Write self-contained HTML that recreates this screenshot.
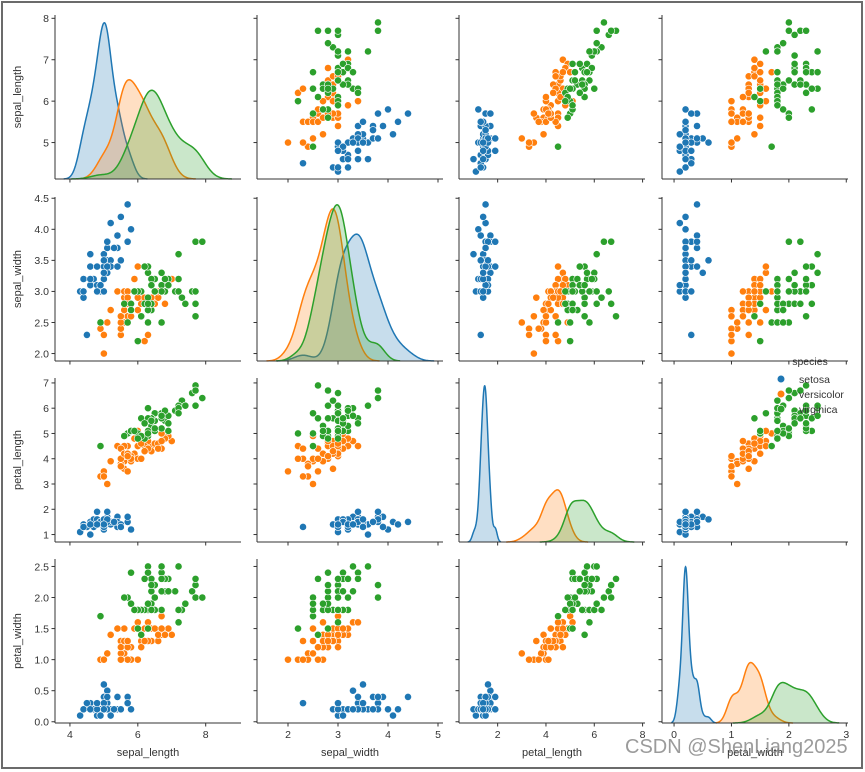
<!DOCTYPE html>
<html><head><meta charset="utf-8"><style>
html,body{margin:0;padding:0;background:#fff;}
#frame{position:absolute;left:1px;top:1px;width:858px;height:764px;border:2px solid #6b6b6b;}
svg{position:absolute;left:0;top:0;}
text{font-family:"Liberation Sans",sans-serif;fill:#333;}
#wm{position:absolute;left:625px;top:736px;font-family:"Liberation Sans","Noto Sans CJK SC",sans-serif;font-size:20px;color:rgba(130,130,130,0.8);white-space:nowrap;}
</style></head><body>
<div id="frame"></div>
<svg id="chart" width="865" height="772"></svg>
<div id="wm">CSDN @ShenLiang2025</div>
<script>
const varNames = ["sepal_length","sepal_width","petal_length","petal_width"];
const species = ["setosa","versicolor","virginica"];
const colors = ["#1f77b4","#ff7f0e","#2ca02c"];
const setosa = [[5.1,3.5,1.4,0.2],[4.9,3.0,1.4,0.2],[4.7,3.2,1.3,0.2],[4.6,3.1,1.5,0.2],[5.0,3.6,1.4,0.2],[5.4,3.9,1.7,0.4],[4.6,3.4,1.4,0.3],[5.0,3.4,1.5,0.2],[4.4,2.9,1.4,0.2],[4.9,3.1,1.5,0.1],[5.4,3.7,1.5,0.2],[4.8,3.4,1.6,0.2],[4.8,3.0,1.4,0.1],[4.3,3.0,1.1,0.1],[5.8,4.0,1.2,0.2],[5.7,4.4,1.5,0.4],[5.4,3.9,1.3,0.4],[5.1,3.5,1.4,0.3],[5.7,3.8,1.7,0.3],[5.1,3.8,1.5,0.3],[5.4,3.4,1.7,0.2],[5.1,3.7,1.5,0.4],[4.6,3.6,1.0,0.2],[5.1,3.3,1.7,0.5],[4.8,3.4,1.9,0.2],[5.0,3.0,1.6,0.2],[5.0,3.4,1.6,0.4],[5.2,3.5,1.5,0.2],[5.2,3.4,1.4,0.2],[4.7,3.2,1.6,0.2],[4.8,3.1,1.6,0.2],[5.4,3.4,1.5,0.4],[5.2,4.1,1.5,0.1],[5.5,4.2,1.4,0.2],[4.9,3.1,1.5,0.1],[5.0,3.2,1.2,0.2],[5.5,3.5,1.3,0.2],[4.9,3.1,1.5,0.1],[4.4,3.0,1.3,0.2],[5.1,3.4,1.5,0.2],[5.0,3.5,1.3,0.3],[4.5,2.3,1.3,0.3],[4.4,3.2,1.3,0.2],[5.0,3.5,1.6,0.6],[5.1,3.8,1.9,0.4],[4.8,3.0,1.4,0.3],[5.1,3.8,1.6,0.2],[4.6,3.2,1.4,0.2],[5.3,3.7,1.5,0.2],[5.0,3.3,1.4,0.2]];
const versicolor = [[7.0,3.2,4.7,1.4],[6.4,3.2,4.5,1.5],[6.9,3.1,4.9,1.5],[5.5,2.3,4.0,1.3],[6.5,2.8,4.6,1.5],[5.7,2.8,4.5,1.3],[6.3,3.3,4.7,1.6],[4.9,2.4,3.3,1.0],[6.6,2.9,4.6,1.3],[5.2,2.7,3.9,1.4],[5.0,2.0,3.5,1.0],[5.9,3.0,4.2,1.5],[6.0,2.2,4.0,1.0],[6.1,2.9,4.7,1.4],[5.6,2.9,3.6,1.3],[6.7,3.1,4.4,1.4],[5.6,3.0,4.5,1.5],[5.8,2.7,4.1,1.0],[6.2,2.2,4.5,1.5],[5.6,2.5,3.9,1.1],[5.9,3.2,4.8,1.8],[6.1,2.8,4.0,1.3],[6.3,2.5,4.9,1.5],[6.1,2.8,4.7,1.2],[6.4,2.9,4.3,1.3],[6.6,3.0,4.4,1.4],[6.8,2.8,4.8,1.4],[6.7,3.0,5.0,1.7],[6.0,2.9,4.5,1.5],[5.7,2.6,3.5,1.0],[5.5,2.4,3.8,1.1],[5.5,2.4,3.7,1.0],[5.8,2.7,3.9,1.2],[6.0,2.7,5.1,1.6],[5.4,3.0,4.5,1.5],[6.0,3.4,4.5,1.6],[6.7,3.1,4.7,1.5],[6.3,2.3,4.4,1.3],[5.6,3.0,4.1,1.3],[5.5,2.5,4.0,1.3],[5.5,2.6,4.4,1.2],[6.1,3.0,4.6,1.4],[5.8,2.6,4.0,1.2],[5.0,2.3,3.3,1.0],[5.6,2.7,4.2,1.3],[5.7,3.0,4.2,1.2],[5.7,2.9,4.2,1.3],[6.2,2.9,4.3,1.3],[5.1,2.5,3.0,1.1],[5.7,2.8,4.1,1.3]];
const virginica = [[6.3,3.3,6.0,2.5],[5.8,2.7,5.1,1.9],[7.1,3.0,5.9,2.1],[6.3,2.9,5.6,1.8],[6.5,3.0,5.8,2.2],[7.6,3.0,6.6,2.1],[4.9,2.5,4.5,1.7],[7.3,2.9,6.3,1.8],[6.7,2.5,5.8,1.8],[7.2,3.6,6.1,2.5],[6.5,3.2,5.1,2.0],[6.4,2.7,5.3,1.9],[6.8,3.0,5.5,2.1],[5.7,2.5,5.0,2.0],[5.8,2.8,5.1,2.4],[6.4,3.2,5.3,2.3],[6.5,3.0,5.5,1.8],[7.7,3.8,6.7,2.2],[7.7,2.6,6.9,2.3],[6.0,2.2,5.0,1.5],[6.9,3.2,5.7,2.3],[5.6,2.8,4.9,2.0],[7.7,2.8,6.7,2.0],[6.3,2.7,4.9,1.8],[6.7,3.3,5.7,2.1],[7.2,3.2,6.0,1.8],[6.2,2.8,4.8,1.8],[6.1,3.0,4.9,1.8],[6.4,2.8,5.6,2.1],[7.2,3.0,5.8,1.6],[7.4,2.8,6.1,1.9],[7.9,3.8,6.4,2.0],[6.4,2.8,5.6,2.2],[6.3,2.8,5.1,1.5],[6.1,2.6,5.6,1.4],[7.7,3.0,6.1,2.3],[6.3,3.4,5.6,2.4],[6.4,3.1,5.5,1.8],[6.0,3.0,4.8,1.8],[6.9,3.1,5.4,2.1],[6.7,3.1,5.6,2.4],[6.9,3.1,5.1,2.3],[5.8,2.7,5.1,1.9],[6.8,3.2,5.9,2.3],[6.7,3.3,5.7,2.5],[6.7,3.0,5.2,2.3],[6.3,2.5,5.0,1.9],[6.5,3.0,5.2,2.0],[6.2,3.4,5.4,2.3],[5.9,3.0,5.1,1.8]];
const groups = [setosa, versicolor, virginica];
const xLims = [[3.56,9.04],[1.38,5.1],[0.4,8.1],[-0.21,3.03]];
const yLims = [[4.12,8.08],[1.88,4.52],[0.705,7.195],[-0.02,2.62]];
const xTicks = [[4,6,8],[2,3,4,5],[2,4,6,8],[0,1,2,3]];
const yTicks = [[5,6,7,8],[2.0,2.5,3.0,3.5,4.0,4.5],[1,2,3,4,5,6,7],[0.0,0.5,1.0,1.5,2.0,2.5]];
const yTickLabels = [["5","6","7","8"],["2.0","2.5","3.0","3.5","4.0","4.5"],["1","2","3","4","5","6","7"],["0.0","0.5","1.0","1.5","2.0","2.5"]];

const NS="http://www.w3.org/2000/svg";
const svg=document.getElementById('chart');
const colL=[55,257,459,662], W=186, rowT=[15,197,378,559], H=164;
function mk(tag,attrs,parent){const e=document.createElementNS(NS,tag);for(const k in attrs)e.setAttribute(k,attrs[k]);(parent||svg).appendChild(e);return e;}
function sx(j,v){return colL[j]+(v-xLims[j][0])/(xLims[j][1]-xLims[j][0])*W;}
function sy(i,v){return rowT[i]+H-(v-yLims[i][0])/(yLims[i][1]-yLims[i][0])*H;}

function kde(vals){
  const n=vals.length, m=vals.reduce((a,b)=>a+b,0)/n;
  const sd=Math.sqrt(vals.reduce((a,b)=>a+(b-m)*(b-m),0)/(n-1));
  const bw=sd*Math.pow(n,-0.2);
  return {bw, f:x=>vals.reduce((a,v)=>a+Math.exp(-0.5*((x-v)/bw)**2),0)/(n*bw*Math.sqrt(2*Math.PI))};
}

for(let i=0;i<4;i++){for(let j=0;j<4;j++){
  const g=mk('g',{});
  
  
  const x0=colL[j], y0=rowT[i];
  if(i===j){
    const curves=[]; let ymax=0;
    groups.forEach((gr,k)=>{
      const vals=gr.map(r=>r[i]); const {bw,f}=kde(vals);
      const lo=Math.min(...vals)-3*bw, hi=Math.max(...vals)+3*bw;
      const pts=[]; for(let t=0;t<200;t++){const x=lo+(hi-lo)*t/199; const y=f(x)*vals.length/150; pts.push([x,y]); if(y>ymax)ymax=y;}
      curves.push(pts);
    });
    const top=ymax*1.05;
    curves.forEach((pts,k)=>{
      const py=v=>y0+H-v/top*H;
      let d=pts.map((p,t)=>(t?'L':'M')+sx(j,p[0]).toFixed(2)+','+py(p[1]).toFixed(2)).join('');
      const fill=mk('path',{d:d+'L'+sx(j,pts[pts.length-1][0]).toFixed(2)+','+(y0+H)+'L'+sx(j,pts[0][0]).toFixed(2)+','+(y0+H)+'Z',fill:colors[k],'fill-opacity':0.25,stroke:'none'},g);
      
      
      const line=mk('path',{d:d,fill:'none',stroke:colors[k],'stroke-width':1.5},g);
      
      
    });
  } else {
    groups.forEach((gr,k)=>{gr.forEach(r=>{
      const c=mk('circle',{cx:sx(j,r[j]).toFixed(2),cy:sy(i,r[i]).toFixed(2),r:3.6,fill:colors[k],stroke:'#fff','stroke-width':0.6},g);
      
      
    });});
  }
  mk('line',{x1:x0,y1:y0,x2:x0,y2:y0+H,stroke:'#333','stroke-width':1},g);
  mk('line',{x1:x0,y1:y0+H,x2:x0+W,y2:y0+H,stroke:'#333','stroke-width':1},g);
  xTicks[j].forEach((t,ti)=>{
    const x=sx(j,t); mk('line',{x1:x,y1:y0+H,x2:x,y2:y0+H+3.5,stroke:'#333','stroke-width':1},g);
    if(i===3){const tx=mk('text',{x:x,y:y0+H+15,'font-size':10.5,'text-anchor':'middle'},g);tx.textContent=String(t);
      }
  });
  yTicks[i].forEach((t,ti)=>{
    const y=sy(i,t); mk('line',{x1:x0-3.5,y1:y,x2:x0,y2:y,stroke:'#333','stroke-width':1},g);
    if(j===0){const tx=mk('text',{x:x0-6,y:y+3.8,'font-size':10.5,'text-anchor':'end'},g);tx.textContent=yTickLabels[i][ti];
      }
  });
}}
for(let j=0;j<4;j++){const t=mk('text',{x:colL[j]+W/2,y:756,'font-size':11,'text-anchor':'middle'});t.textContent=varNames[j];
  }
for(let i=0;i<4;i++){const cy=rowT[i]+H/2;const t=mk('text',{x:0,y:0,'font-size':11,'text-anchor':'middle',transform:'translate(21,'+cy+') rotate(-90)'});t.textContent=varNames[i];
  }
const lg=mk('g',{});


const lt=mk('text',{x:810,y:365,'font-size':10.5,'text-anchor':'middle'},lg);lt.textContent='species';
species.forEach((s,k)=>{const y=379+k*15;
  const c=mk('circle',{cx:781,cy:y,r:3.8,fill:colors[k],stroke:'#fff','stroke-width':0.6},lg);
  
  const t=mk('text',{x:799,y:y+4,'font-size':10.5},lg);t.textContent=s;
  });
</script>
</body></html>
